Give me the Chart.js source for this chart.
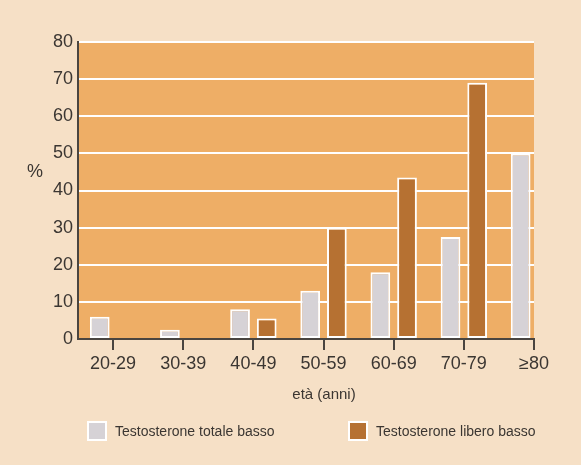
<!DOCTYPE html>
<html>
<head>
<meta charset="utf-8">
<script src="https://cdn.jsdelivr.net/npm/chart.js@4/dist/chart.umd.min.js"></script>
<style>
  html, body { margin: 0; padding: 0; background: #F6E0C6; }
  #wrap { width: 581px; height: 465px; position: relative; }
</style>
</head>
<body>
<div id="wrap"><canvas id="c"></canvas></div>
<script>
// ---- data ----
const categories = ['20-29', '30-39', '40-49', '50-59', '60-69', '70-79', '≥80'];
const totaleBasso = [6, 2.5, 8, 13, 18, 27.5, 50];
const liberoBasso = [null, null, 5.5, 30, 43.5, 69, null];
const seriesNames = ['Testosterone totale basso', 'Testosterone libero basso'];
const yMin = 0, yMax = 80, yStep = 10;
const xTitle = 'età (anni)';
const yTitle = '%';

// ---- style ----
const PAGE = '#F6E0C6';
const PLOT = '#EEAE66';
const GRAY = '#D6D2D6';
const BROWN = '#B67132';
const INK = '#3B3632';
const AXIS = '#4A4540';
const FONT = "'Liberation Sans', Arial, sans-serif";

const deco = {
  id: 'deco',
  beforeDraw(chart) {
    const { ctx, chartArea: a } = chart;
    ctx.save();
    ctx.fillStyle = PAGE;
    ctx.fillRect(0, 0, chart.width, chart.height);
    ctx.fillStyle = PLOT;
    ctx.fillRect(a.left, a.top, a.right - a.left, a.bottom - a.top);
    ctx.restore();
  },
  afterDraw(chart) {
    const { ctx, chartArea: a, scales } = chart;
    ctx.save();
    ctx.fillStyle = INK;
    ctx.font = '18px ' + FONT;
    ctx.textAlign = 'center';
    ctx.textBaseline = 'middle';
    ctx.fillText(yTitle, a.left - 43, scales.y.getPixelForValue(45));
    ctx.font = '15px ' + FONT;
    ctx.fillText(xTitle, (a.left + a.right) / 2 + 18, a.bottom + 56);
    const items = chart.data.datasets.map(ds => ({ label: ds.label, color: ds.backgroundColor }));
    const xs = [87, 348];
    const ly = 431;
    ctx.font = '14px ' + FONT;
    ctx.textAlign = 'left';
    items.forEach((it, i) => {
      const bx = xs[i];
      ctx.fillStyle = '#FFFFFF';
      ctx.fillRect(bx, ly - 10, 20, 20);
      ctx.fillStyle = it.color;
      ctx.fillRect(bx + 2, ly - 8, 16, 16);
      ctx.fillStyle = INK;
      ctx.fillText(it.label, bx + 28, ly + 1);
    });
    ctx.restore();
  }
};

new Chart(document.getElementById('c'), {
  type: 'bar',
  data: {
    datasets: [
      {
        label: seriesNames[0],
        data: totaleBasso.map((v, i) => ({ x: i, y: v })),
        backgroundColor: GRAY,
        borderColor: '#FFFFFF',
        borderWidth: 2,
        borderSkipped: false
      },
      {
        label: seriesNames[1],
        data: liberoBasso.map((v, i) => ({ x: i, y: v })),
        backgroundColor: BROWN,
        borderColor: '#FFFFFF',
        borderWidth: 2,
        borderSkipped: false
      }
    ]
  },
  options: {
    responsive: true,
    maintainAspectRatio: false,
    animation: false,
    categoryPercentage: 0.76,
    barPercentage: 0.74,
    layout: { padding: { left: 0, top: 42, right: 47, bottom: 86 } },
    plugins: {
      legend: { display: false },
      tooltip: { enabled: false }
    },
    scales: {
      x: {
        type: 'linear',
        offset: false,
        min: -0.5,
        max: categories.length - 1,
        afterBuildTicks(scale) {
          scale.ticks = categories.map((c, i) => ({ value: i }));
        },
        afterFit(scale) { scale.height = 40; },
        ticks: {
          stepSize: 1,
          autoSkip: false,
          maxRotation: 0,
          padding: 3,
          color: INK,
          font: { family: FONT, size: 18 },
          callback: (v) => categories[v] ?? ''
        },
        grid: {
          offset: false,
          drawOnChartArea: false,
          drawTicks: true,
          tickLength: 11,
          color: AXIS,
          lineWidth: 2
        },
        border: { display: true, color: AXIS, width: 2 }
      },
      y: {
        min: yMin,
        max: yMax,
        afterFit(scale) { scale.width = 78; },
        ticks: {
          stepSize: yStep,
          padding: 5,
          color: INK,
          font: { family: FONT, size: 18 }
        },
        grid: {
          color: '#FFFFFF',
          lineWidth: 2,
          drawTicks: false
        },
        border: { display: true, color: AXIS, width: 2 }
      }
    }
  },
  plugins: [deco]
});
</script>
</body>
</html>
